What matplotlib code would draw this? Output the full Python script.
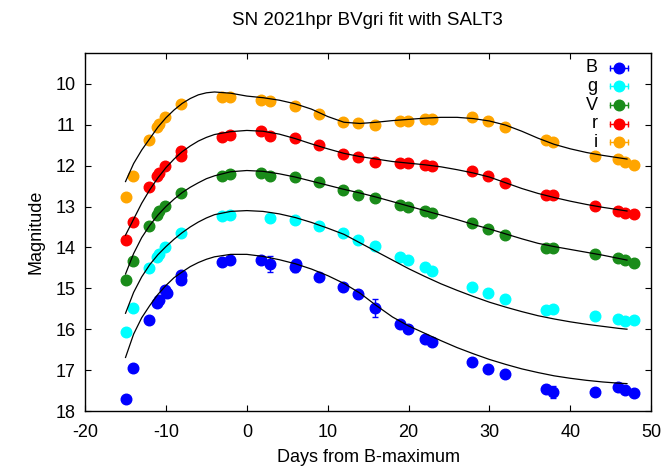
import numpy as np
import matplotlib
matplotlib.use("Agg")
import matplotlib.pyplot as plt

plt.rcParams['font.family'] = ['Liberation Sans', 'DejaVu Sans']
plt.rcParams['font.size'] = 13
plt.rcParams['axes.unicode_minus'] = False

# couleurs des bandes
bandes = ['B', 'g', 'V', 'r', 'i']
couleurs = {'B': '#0000ff', 'g': '#00ffff', 'V': '#1a8c1a', 'r': '#ff0000', 'i': '#ffa500'}

# observations (jours depuis le max B, magnitude, erreur)
jours_B = [-15, -14.1, -12.1, -11.1, -10.9, -10.1, -9.9, -8.2, -8.1, -3.1, -2.1, 1.7, 2.85, 6.0, 6.1,
           8.9, 11.85, 13.8, 15.9, 18.9, 19.9, 22.0, 22.9, 27.9, 29.8, 31.9, 37.0, 37.9, 43.0, 45.9, 46.8, 47.9]
mag_B = [17.70, 16.96, 15.78, 15.37, 15.29, 15.04, 15.12, 14.67, 14.79, 14.36, 14.32, 14.32, 14.40, 14.48, 14.40,
         14.72, 14.98, 15.14, 15.47, 15.88, 16.00, 16.23, 16.32, 16.81, 16.98, 17.10, 17.45, 17.53, 17.53, 17.41, 17.48, 17.57]
err_B = [0.03, 0.03, 0.03, 0.03, 0.03, 0.03, 0.08, 0.03, 0.03, 0.03, 0.03, 0.03, 0.2, 0.13, 0.03,
         0.03, 0.03, 0.03, 0.22, 0.03, 0.03, 0.03, 0.03, 0.03, 0.03, 0.03, 0.08, 0.15, 0.03, 0.03, 0.08, 0.03]

jours_g = [-15, -14.1, -12.1, -11.1, -10.9, -10.1, -8.2, -3.1, -2.1, 2.85, 6.0, 8.9, 11.85, 13.8, 15.9,
           18.9, 19.9, 22.0, 22.9, 27.9, 29.8, 31.9, 37.0, 37.9, 43.0, 45.9, 46.8, 47.9]
mag_g = [16.06, 15.49, 14.51, 14.23, 14.16, 13.98, 13.65, 13.24, 13.20, 13.28, 13.33, 13.47, 13.65, 13.82, 13.96,
         14.23, 14.31, 14.49, 14.57, 14.98, 15.11, 15.26, 15.53, 15.51, 15.68, 15.74, 15.79, 15.78]

jours_V = [-15, -14.1, -12.1, -11.1, -10.9, -10.1, -8.2, -3.1, -2.1, 1.7, 2.85, 6.0, 8.9, 11.85, 13.8, 15.9,
           18.9, 19.9, 22.0, 22.9, 27.9, 29.8, 31.9, 37.0, 37.9, 43.0, 45.9, 46.8, 47.9]
mag_V = [14.80, 14.33, 13.47, 13.20, 13.12, 12.98, 12.66, 12.25, 12.21, 12.17, 12.25, 12.28, 12.39, 12.59, 12.71, 12.79,
         12.96, 13.00, 13.11, 13.16, 13.41, 13.55, 13.69, 14.02, 14.02, 14.17, 14.25, 14.31, 14.37]

jours_r = [-15, -14.1, -12.1, -11.1, -10.9, -10.1, -8.2, -8.1, -3.1, -2.1, 1.7, 2.85, 6.0, 8.9, 11.85, 13.8, 15.9,
           18.9, 19.9, 22.0, 22.9, 27.9, 29.8, 31.9, 37.0, 37.9, 43.0, 45.9, 46.8, 47.9]
mag_r = [13.82, 13.37, 12.52, 12.25, 12.18, 12.01, 11.65, 11.76, 11.30, 11.26, 11.16, 11.27, 11.32, 11.50, 11.71, 11.79, 11.90,
         11.94, 11.94, 11.98, 12.00, 12.14, 12.26, 12.43, 12.73, 12.73, 12.98, 13.10, 13.15, 13.18]

jours_i = [-15, -14.1, -12.1, -11.1, -10.9, -10.1, -8.2, -3.1, -2.1, 1.7, 2.85, 6.0, 8.9, 11.85, 13.8, 15.9,
           18.9, 19.9, 22.0, 22.9, 27.9, 29.8, 31.9, 37.0, 37.9, 43.0, 45.9, 46.8, 47.9]
mag_i = [12.77, 12.25, 11.37, 11.05, 10.98, 10.81, 10.50, 10.33, 10.33, 10.40, 10.43, 10.55, 10.73, 10.93, 10.97, 11.00,
         10.92, 10.90, 10.86, 10.85, 10.82, 10.90, 11.05, 11.38, 11.43, 11.77, 11.84, 11.90, 11.98]

# modele SALT3
jours_modele = [-15, -14, -13, -12, -11, -10, -9, -8, -7, -6, -5, -4, -2, 0, 2, 4, 6, 8, 10, 12, 14, 16, 18,
                20, 22, 24, 26, 28, 30, 32, 34, 36, 38, 40, 42, 44, 46, 47]
modele_B = [16.69, 16.12, 15.72, 15.42, 15.15, 14.93, 14.74, 14.60, 14.47, 14.37, 14.29, 14.23, 14.17, 14.17,
            14.22, 14.30, 14.40, 14.53, 14.69, 14.88, 15.12, 15.42, 15.70, 15.92, 16.10, 16.28, 16.45, 16.60,
            16.74, 16.86, 16.97, 17.06, 17.14, 17.20, 17.25, 17.29, 17.32, 17.33]
modele_g = [15.61, 15.10, 14.72, 14.42, 14.18, 13.98, 13.80, 13.64, 13.50, 13.38, 13.28, 13.20, 13.12, 13.10,
            13.12, 13.18, 13.27, 13.39, 13.53, 13.68, 13.89, 14.10, 14.31, 14.52, 14.71, 14.89, 15.05, 15.20,
            15.34, 15.46, 15.57, 15.67, 15.75, 15.82, 15.88, 15.93, 15.98, 16.00]
modele_V = [14.65, 14.15, 13.76, 13.46, 13.21, 13.00, 12.82, 12.66, 12.53, 12.42, 12.32, 12.25, 12.15, 12.12,
            12.14, 12.20, 12.28, 12.38, 12.48, 12.58, 12.67, 12.77, 12.88, 12.99, 13.10, 13.21, 13.32, 13.44,
            13.55, 13.67, 13.79, 13.90, 13.98, 14.05, 14.12, 14.19, 14.27, 14.31]
modele_r = [13.70, 13.31, 12.92, 12.59, 12.30, 12.05, 11.84, 11.66, 11.52, 11.40, 11.31, 11.24, 11.17, 11.14,
            11.16, 11.23, 11.34, 11.47, 11.59, 11.70, 11.78, 11.84, 11.90, 11.94, 11.98, 12.03, 12.10, 12.18,
            12.28, 12.42, 12.56, 12.68, 12.78, 12.87, 12.95, 13.02, 13.08, 13.11]
modele_i = [12.39, 11.95, 11.62, 11.34, 11.06, 10.83, 10.64, 10.48, 10.36, 10.27, 10.22, 10.20, 10.23, 10.30,
            10.34, 10.40, 10.49, 10.62, 10.80, 10.94, 10.97, 10.94, 10.90, 10.87, 10.84, 10.82, 10.82, 10.85,
            10.91, 11.01, 11.16, 11.33, 11.48, 11.59, 11.68, 11.75, 11.81, 11.84]

donnees = {
    'B': (jours_B, mag_B, err_B, modele_B),
    'g': (jours_g, mag_g, None, modele_g),
    'V': (jours_V, mag_V, None, modele_V),
    'r': (jours_r, mag_r, None, modele_r),
    'i': (jours_i, mag_i, None, modele_i),
}

fig = plt.figure(figsize=(6.7, 4.66), dpi=100)
ax = fig.add_axes([0.127, 0.118, 0.845, 0.768])

for b in bandes:
    jours, mags, errs, modele = donnees[b]
    if errs is None:
        errs = [0.03] * len(mags)
    ax.errorbar(jours, mags, yerr=errs, fmt='o', color=couleurs[b], ms=7.6,
                elinewidth=1, capsize=2.5, zorder=2)
    ax.plot(jours_modele, modele, color='black', lw=0.9, zorder=3)

# legende faite a la main, style gnuplot
for k, b in enumerate(bandes):
    yk = 0.959 - k * 0.052
    ax.text(0.905, yk, b, transform=ax.transAxes, ha='right', va='center', fontsize=13)
    ax.plot([0.928, 0.959], [yk, yk], transform=ax.transAxes, color=couleurs[b], lw=1)
    ax.plot([0.928, 0.959], [yk, yk], transform=ax.transAxes, ls='none', marker='|',
            ms=5, mew=1, color=couleurs[b])
    ax.plot([0.943], [yk], transform=ax.transAxes, marker='o', ms=7.6, color=couleurs[b])

ax.set_xlim(-20, 50)
ax.set_ylim(18, 9.25)
ax.set_xticks([-20, -10, 0, 10, 20, 30, 40, 50])
ax.set_yticks([10, 11, 12, 13, 14, 15, 16, 17, 18])
ax.tick_params(direction='in', top=True, right=True, length=4.5, width=0.8)
ax.tick_params(axis='x', pad=9)
ax.tick_params(axis='y', pad=7)
for s in ax.spines.values():
    s.set_linewidth(1.0)

ax.set_xlabel("Days from B-maximum", labelpad=6)
ax.set_ylabel("Magnitude", labelpad=8)
fig.text(0.549, 0.955, "SN 2021hpr BVgri fit with SALT3", ha='center', va='center', fontsize=13.5)

plt.savefig("out.png", dpi=100)
